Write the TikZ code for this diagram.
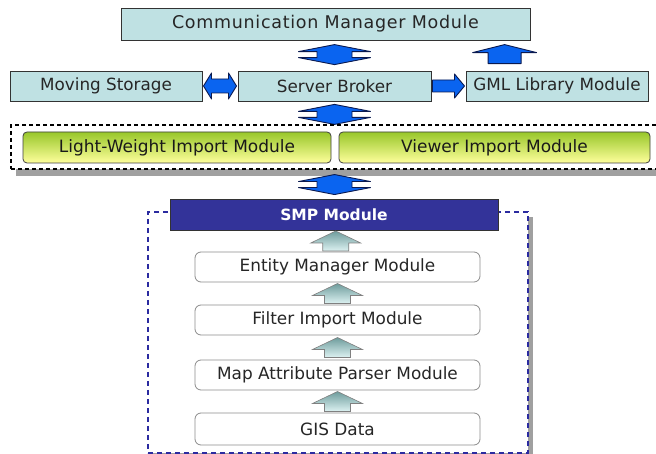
\documentclass[tikz,border=0pt]{standalone}
\usepackage{color, xcolor}
\usepackage{fontspec}
\setmainfont{DejaVu Sans}
\usepackage{tikz}
\usetikzlibrary{positioning, calc, shadows}

\definecolor{boxcyan}{HTML}{BFE1E3}
\definecolor{lwgreen}{HTML}{98C72A}
\definecolor{lwyellow}{HTML}{FFFF9C}
\definecolor{smpblue}{HTML}{333399}
\definecolor{arrowblue}{HTML}{0A64F0}
\definecolor{arrowline}{HTML}{0A1A50}
\definecolor{tealtop}{HTML}{6E9C9C}
\definecolor{tealbot}{HTML}{DDF2F2}
\definecolor{framegray}{HTML}{A0A0A0}
\definecolor{dashblue}{HTML}{2B2BA0}

\tikzset{
    cyanbox/.style={draw=black!80, fill=boxcyan, line width=0.8pt, inner sep=0pt,
        text=black!85, font=\fontsize{16.8}{18}\selectfont},
    importbox/.style={draw=black!75, rounded corners=4pt, top color=lwgreen, bottom color=lwyellow,
        line width=0.8pt, inner sep=0pt, minimum height=31pt, text=black!90,
        font=\fontsize{17}{18}\selectfont},
    stagebox/.style={draw=black!45, fill=white, rounded corners=6pt, line width=0.8pt, inner sep=0pt,
        minimum width=285pt, minimum height=30pt, text=black!85, font=\fontsize{16.9}{18}\selectfont},
    blockarrow/.style={fill=arrowblue, draw=arrowline, line width=0.9pt, line join=round},
    tealarrow/.style={top color=tealtop, bottom color=tealbot, draw=black!50, line width=0.6pt},
    vdbl/.pic={\path[blockarrow] (0,-10) -- (36,-3) -- (17.5,-3) -- (17.5,3) -- (36,3) -- (0,10)
        -- (-36,3) -- (-17.5,3) -- (-17.5,-3) -- (-36,-3) -- cycle;},
    hdbl/.pic={\path[blockarrow] (-16.5,0) -- (-8.5,-13) -- (-8.5,-7) -- (8.5,-7) -- (8.5,-13) -- (16.5,0)
        -- (8.5,13) -- (8.5,7) -- (-8.5,7) -- (-8.5,13) -- cycle;},
    rgt/.pic={\path[blockarrow] (-16,-6) -- (6,-6) -- (6,-12) -- (16,0) -- (6,12) -- (6,6) -- (-16,6) -- cycle;},
    upblue/.pic={\path[blockarrow] (0,-9.5) -- (32,-1.5) -- (16.5,-1.5) -- (16.5,9.5) -- (-16.5,9.5)
        -- (-16.5,-1.5) -- (-32,-1.5) -- cycle;},
    upteal/.pic={\path[tealarrow] (0,-10) -- (25,2) -- (13,2) -- (13,10) -- (-13,10) -- (-13,2)
        -- (-25,2) -- cycle;}
}

\begin{document}
\begin{tikzpicture}[x=1pt, y=-1pt]
            \useasboundingbox (0,0) rectangle (656,454);

            % top row
            \node[cyanbox, minimum width=409pt, minimum height=32pt,
                font=\fontsize{17.5}{18}\selectfont\addfontfeatures{LetterSpace=4}] (comm) at (325.5,24) {Communication Manager Module};
            \node[cyanbox, minimum width=192pt, minimum height=30pt] (store) at (106,86) {Moving Storage};
            \node[cyanbox, minimum width=193pt, minimum height=30pt] (broker) at (334.5,86) {Server Broker};
            \node[cyanbox, minimum width=182pt, minimum height=30pt] (gml) at (557,86) {GML Library Module};

            \pic at ($(broker.north)+(0,-16)$) {vdbl};
            \pic at ($(gml.north west)+(39,-16.5)$) {upblue};
            \pic at ($(store.east)!0.5!(broker.west)$) {hdbl};
            \pic at ($(broker.east)!0.5!(gml.west)$) {rgt};
            \pic at ($(broker.south)+(0,13)$) {vdbl};

            % import layer
            \node[draw=black, dashed, dash pattern=on 4pt off 3pt, fill=white, line width=1.1pt,
                minimum width=647pt, minimum height=44pt,
                drop shadow={shadow xshift=5pt, shadow yshift=-7pt, fill=framegray, opacity=1}] (layer) at (334.5,147) {};
            \node[importbox, minimum width=308pt] (light) at (177,147.5) {Light-Weight Import Module};
            \node[importbox, minimum width=311pt] (viewer) at (494.5,147.5) {Viewer Import Module};

            \pic at ($(layer.south)+(0,15)$) {vdbl};

            % SMP part
            \node[draw=dashblue, dashed, dash pattern=on 5pt off 4pt, fill=white, line width=1.4pt,
                minimum width=380pt, minimum height=241pt,
                drop shadow={shadow xshift=5pt, shadow yshift=-5pt, fill=framegray, opacity=1}] (frame) at (338,332.5) {};
            \node[draw=black!80, fill=smpblue, minimum width=328pt, minimum height=31pt, inner sep=0pt, line width=0.8pt,
                text=white, font=\fontsize{15.5}{18}\selectfont\bfseries] (smp) at (334,214.5) {SMP Module};
            \node[stagebox] (entity) at (337.5,267) {Entity Manager Module};
            \node[stagebox] (filter) at (337.5,320) {Filter Import Module};
            \node[stagebox] (parser) at (337.5,375) {Map Attribute Parser Module};
            \node[stagebox, minimum height=32pt] (gis) at (337.5,429) {GIS Data};

            \pic at ($(smp.south)!0.5!(entity.north)$) {upteal};
            \pic at ($(entity.south)!0.5!(filter.north)$) {upteal};
            \pic at ($(filter.south)!0.5!(parser.north)$) {upteal};
            \pic at ($(parser.south)!0.5!(gis.north)$) {upteal};
\end{tikzpicture}
\end{document}
